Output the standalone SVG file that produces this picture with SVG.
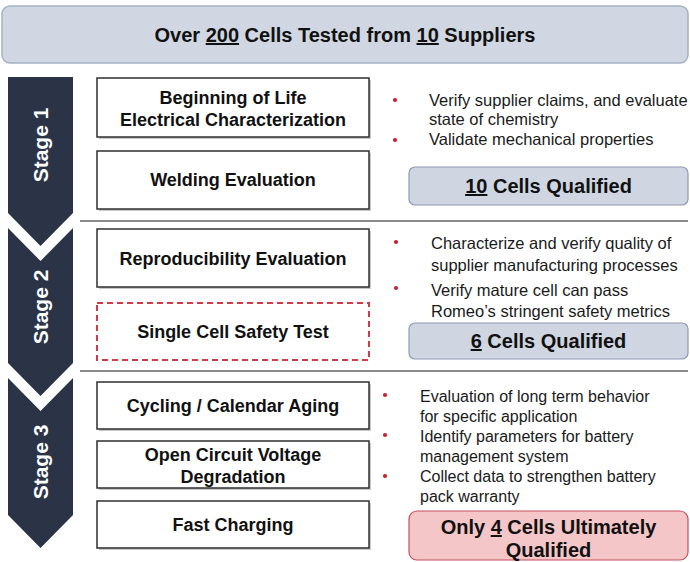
<svg xmlns="http://www.w3.org/2000/svg" width="690" height="562" viewBox="0 0 690 562">
<defs>
<style>
.bg{fill:#ffffff}
.banner{fill:#d0d7e3;stroke:#a7b1c3;stroke-width:1.5}
.stage{fill:#2b3447}
.stxt{font-family:"Liberation Sans",Arial,sans-serif;font-weight:bold;font-size:21px;fill:#ffffff;text-anchor:middle}
.box{fill:#ffffff;stroke:#2e2e2e;stroke-width:1.5}
.shadow{fill:#c8c8c8}
.dash{fill:#ffffff;stroke:#d23a48;stroke-width:2;stroke-dasharray:6 4}
.ntxt{font-family:"Liberation Sans",Arial,sans-serif;font-weight:bold;font-size:18px;fill:#111111;text-anchor:middle}
.btxt{font-family:"Liberation Sans",Arial,sans-serif;font-size:16.5px;fill:#1a1a1a}
.btxt3{font-family:"Liberation Sans",Arial,sans-serif;font-size:16px;fill:#1a1a1a}
.dot{fill:#c8202c}
.qual{fill:#cfd6e2;stroke:#8f9bb1;stroke-width:1.2}
.qual4{fill:#f5c6c8;stroke:#c4515a;stroke-width:1.2}
.qtxt{font-family:"Liberation Sans",Arial,sans-serif;font-weight:bold;font-size:20px;fill:#111111;text-anchor:middle}
.div{stroke:#8a8a8a;stroke-width:2}
.u{text-decoration:underline}
</style>
</defs>
<rect class="bg" x="0" y="0" width="690" height="562"/>

<g id="banner">
<rect class="banner" x="2" y="6" width="686" height="57" rx="8"/>
<text class="qtxt" x="345" y="42">Over <tspan class="u">200</tspan> Cells Tested from <tspan class="u">10</tspan> Suppliers</text>
</g>

<g id="stage1">
<path class="stage" d="M8,77 H73 V213 L40.5,246 L8,213 Z"/>
<text class="stxt" transform="translate(48,145) rotate(-90)">Stage 1</text>
</g>
<g id="stage2">
<path class="stage" d="M8,228 L40.5,261 L73,228 V363 L40.5,396 L8,363 Z"/>
<text class="stxt" transform="translate(48,307) rotate(-90)">Stage 2</text>
</g>
<g id="stage3">
<path class="stage" d="M8,378 L40.5,411 L73,378 V515 L40.5,548 L8,515 Z"/>
<text class="stxt" transform="translate(48,462) rotate(-90)">Stage 3</text>
</g>

<g id="dividers">
<line class="div" x1="80" y1="221" x2="688" y2="221"/>
<line class="div" x1="80" y1="371" x2="688" y2="371"/>
</g>
<g id="connectors"></g>

<g id="bol">
<rect class="shadow" x="99" y="80" width="272" height="59"/>
<rect class="box" x="97" y="78" width="272" height="59"/>
<text class="ntxt" x="233" y="104">Beginning of Life</text>
<text class="ntxt" x="233" y="126">Electrical Characterization</text>
</g>
<g id="welding">
<rect class="shadow" x="99" y="153" width="272" height="58"/>
<rect class="box" x="97" y="151" width="272" height="58"/>
<text class="ntxt" x="233" y="186">Welding Evaluation</text>
</g>
<g id="reproducibility">
<rect class="shadow" x="99" y="231" width="272" height="58"/>
<rect class="box" x="97" y="229" width="272" height="58"/>
<text class="ntxt" x="233" y="265">Reproducibility Evaluation</text>
</g>
<g id="safety">
<rect class="dash" x="97" y="303" width="272" height="57"/>
<text class="ntxt" x="233" y="338">Single Cell Safety Test</text>
</g>
<g id="cycling">
<rect class="shadow" x="99" y="384" width="272" height="47"/>
<rect class="box" x="97" y="382" width="272" height="47"/>
<text class="ntxt" x="233" y="412">Cycling / Calendar Aging</text>
</g>
<g id="ocv">
<rect class="shadow" x="99" y="443" width="272" height="47"/>
<rect class="box" x="97" y="441" width="272" height="47"/>
<text class="ntxt" x="233" y="461">Open Circuit Voltage</text>
<text class="ntxt" x="233" y="483">Degradation</text>
</g>
<g id="fastcharging">
<rect class="shadow" x="99" y="503" width="272" height="47"/>
<rect class="box" x="97" y="501" width="272" height="47"/>
<text class="ntxt" x="233" y="531">Fast Charging</text>
</g>

<g id="stage1-notes">
<circle class="dot" cx="395" cy="100" r="2.1"/>
<circle class="dot" cx="395" cy="140" r="2.1"/>
<text class="btxt" x="429" y="106">Verify supplier claims, and evaluate</text>
<text class="btxt" x="429" y="125">state of chemistry</text>
<text class="btxt" x="429" y="145">Validate mechanical properties</text>
</g>
<g id="qual10">
<rect class="qual" x="409" y="167" width="279" height="38" rx="6"/>
<text class="qtxt" x="548.5" y="193"><tspan class="u">10</tspan> Cells Qualified</text>
</g>

<g id="stage2-notes">
<circle class="dot" cx="396" cy="242" r="2.1"/>
<circle class="dot" cx="396" cy="288" r="2.1"/>
<text class="btxt" x="431" y="249">Characterize and verify quality of</text>
<text class="btxt" x="431" y="271">supplier manufacturing processes</text>
<text class="btxt" x="431" y="296">Verify mature cell can pass</text>
<text class="btxt" x="431" y="317">Romeo’s stringent safety metrics</text>
</g>
<g id="qual6">
<rect class="qual" x="409" y="323" width="279" height="36" rx="6"/>
<text class="qtxt" x="548.5" y="348"><tspan class="u">6</tspan> Cells Qualified</text>
</g>

<g id="stage3-notes">
<circle class="dot" cx="385" cy="395" r="2.1"/>
<circle class="dot" cx="385" cy="435" r="2.1"/>
<circle class="dot" cx="385" cy="476" r="2.1"/>
<text class="btxt3" x="420" y="402">Evaluation of long term behavior</text>
<text class="btxt3" x="420" y="422">for specific application</text>
<text class="btxt3" x="420" y="442">Identify parameters for battery</text>
<text class="btxt3" x="420" y="462">management system</text>
<text class="btxt3" x="420" y="482">Collect data to strengthen battery</text>
<text class="btxt3" x="420" y="502">pack warranty</text>
</g>
<g id="qual4">
<rect class="qual4" x="409" y="511" width="279" height="49" rx="8"/>
<text class="qtxt" x="548.5" y="534">Only <tspan class="u">4</tspan> Cells Ultimately</text>
<text class="qtxt" x="548.5" y="557">Qualified</text>
</g>
</svg>
